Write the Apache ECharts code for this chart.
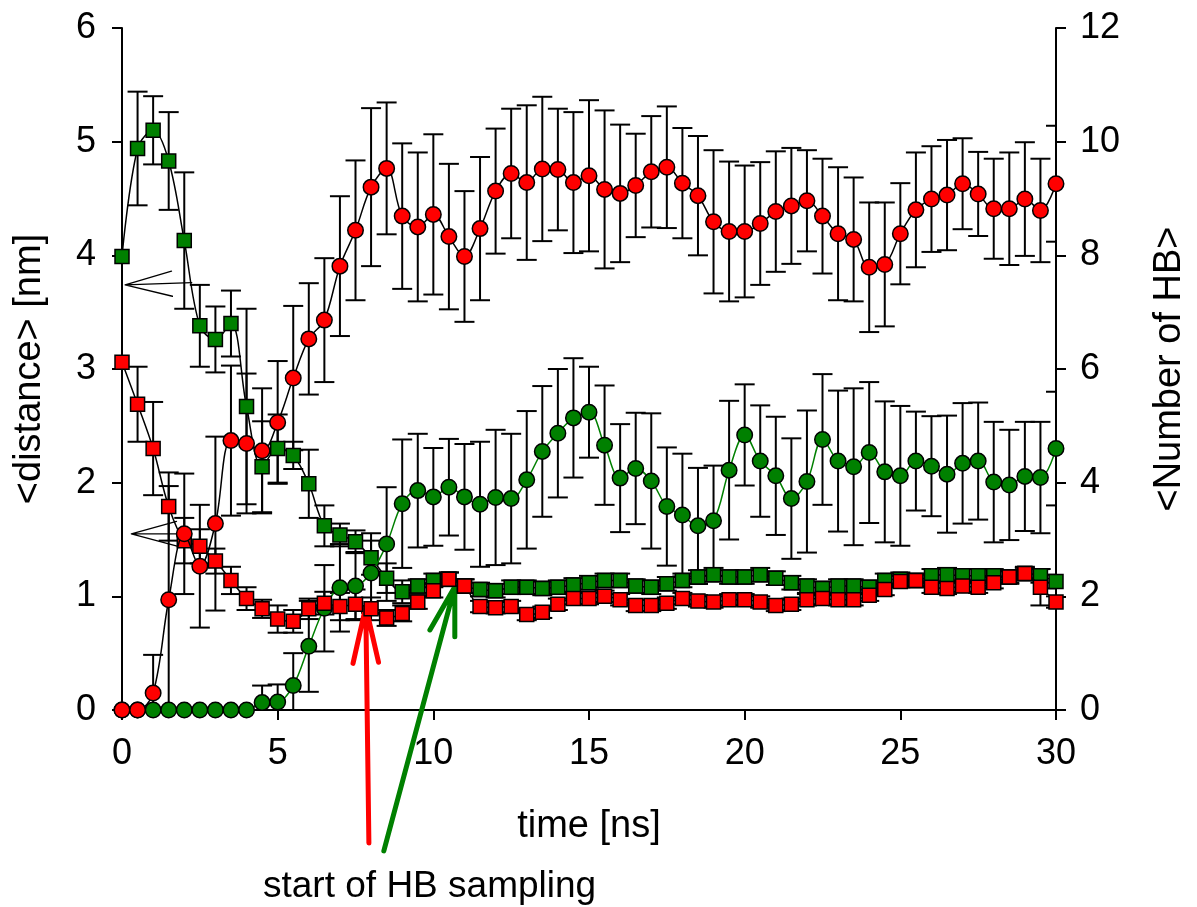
<!DOCTYPE html>
<html>
<head>
<meta charset="utf-8">
<script src="https://cdn.jsdelivr.net/npm/echarts@6/dist/echarts.min.js"></script>
<style>
html,body{margin:0;padding:0;background:#fff;overflow:hidden;}
#chart{width:100vw;height:100vh;}
</style>
</head>
<body>
<div id="chart"></div>
<script>
// time points [ns]
const times = [0,0.5,1,1.5,2,2.5,3,3.5,4,4.5,5,5.5,6,6.5,7,7.5,8,8.5,9,9.5,10,10.5,11,11.5,12,12.5,13,13.5,14,14.5,15,15.5,16,16.5,17,17.5,18,18.5,19,19.5,20,20.5,21,21.5,22,22.5,23,23.5,24,24.5,25,25.5,26,26.5,27,27.5,28,28.5,29,29.5,30];

// <Number of HB> (right axis)
const hbRed = [0,0,0.30,1.94,3.10,2.53,3.28,4.74,4.69,4.56,5.06,5.84,6.53,6.86,7.81,8.44,9.20,9.53,8.69,8.50,8.72,8.33,7.98,8.47,9.13,9.44,9.28,9.52,9.51,9.28,9.40,9.16,9.09,9.23,9.47,9.55,9.27,9.05,8.59,8.42,8.42,8.56,8.77,8.87,8.96,8.69,8.38,8.28,7.79,7.84,8.38,8.80,8.99,9.06,9.26,9.08,8.82,8.82,8.99,8.79,9.26];
const hbRedErr = [0,0,0.67,2.0,1.06,1.08,1.53,1.32,1.23,1.10,1.08,1.27,0.98,1.09,1.23,1.23,1.39,1.16,1.28,1.31,1.41,1.28,1.15,1.26,1.10,1.14,1.36,1.27,1.07,1.24,1.33,1.39,1.21,0.91,0.98,1.07,0.97,1.05,1.26,1.23,1.16,1.08,1.06,1.02,0.89,1.01,1.17,1.09,1.14,1.09,0.89,1.01,0.93,0.97,0.80,0.74,0.88,0.99,1.00,0.91,1.02];
const hbGreen = [0,0,0,0,0,0,0,0,0,0.13,0.14,0.43,1.12,1.79,2.15,2.18,2.41,2.92,3.63,3.86,3.75,3.92,3.75,3.62,3.74,3.72,4.05,4.55,4.87,5.14,5.24,4.66,4.08,4.25,4.03,3.58,3.43,3.24,3.33,4.22,4.84,4.38,4.12,3.72,4.02,4.76,4.38,4.28,4.53,4.19,4.12,4.38,4.29,4.15,4.34,4.38,4.01,3.96,4.11,4.09,4.60];
const hbGreenErr = [0,0,0,0,0,0,0,0,0,0.30,0.31,0.57,0.80,0.76,0.77,0.60,0.70,1.00,1.13,1.00,0.86,0.85,0.93,1.10,1.19,1.14,1.21,1.15,1.13,1.05,0.80,1.05,0.95,0.98,1.19,1.04,1.08,1.02,0.97,1.22,0.89,0.98,1.04,1.06,1.25,1.15,1.24,1.38,1.24,1.24,1.23,0.87,0.88,1.03,1.06,1.03,1.06,0.97,0.96,0.98,1.00];

// <distance> [nm] (left axis)
const distRed = [3.06,2.69,2.30,1.79,1.49,1.44,1.31,1.14,0.98,0.89,0.80,0.78,0.89,0.94,0.91,0.93,0.89,0.81,0.85,0.95,1.05,1.15,1.09,0.91,0.90,0.91,0.84,0.86,0.93,0.98,0.98,1.00,0.97,0.92,0.92,0.94,0.98,0.96,0.95,0.97,0.97,0.95,0.92,0.93,0.97,0.98,0.97,0.97,1.01,1.06,1.13,1.14,1.08,1.07,1.09,1.08,1.12,1.17,1.20,1.08,0.95];
const distRedErr = [0,0.33,0.41,0.30,0.20,0.15,0.11,0.12,0.10,0.08,0.12,0.10,0.09,0.10,0.12,0.13,0.10,0.07,0.07,0.06,0.06,0.06,0.06,0.05,0.05,0.05,0.05,0.05,0.05,0.05,0.05,0.05,0.05,0.05,0.05,0.05,0.05,0.05,0.05,0.05,0.05,0.05,0.05,0.05,0.05,0.05,0.05,0.05,0.05,0.05,0.05,0.05,0.05,0.05,0.05,0.05,0.05,0.05,0.05,0.16,0.05];
const distGreen = [3.99,4.94,5.10,4.83,4.13,3.38,3.26,3.40,2.67,2.14,2.30,2.24,1.99,1.62,1.54,1.48,1.34,1.16,1.04,1.09,1.14,1.15,1.09,1.06,1.05,1.08,1.08,1.07,1.08,1.10,1.12,1.14,1.14,1.09,1.08,1.11,1.14,1.17,1.19,1.17,1.17,1.19,1.16,1.12,1.09,1.07,1.09,1.09,1.08,1.14,1.15,1.14,1.18,1.19,1.18,1.18,1.18,1.17,1.20,1.18,1.13];
const distGreenErr = [0,0.50,0.30,0.43,0.60,0.36,0.29,0.29,0.86,0.40,0.30,0.12,0.30,0.18,0.10,0.10,0.15,0.13,0.10,0.06,0.06,0.06,0.06,0.06,0.06,0.06,0.06,0.06,0.06,0.06,0.06,0.06,0.06,0.06,0.06,0.06,0.06,0.06,0.06,0.06,0.06,0.06,0.06,0.06,0.06,0.06,0.06,0.06,0.06,0.06,0.06,0.06,0.06,0.06,0.06,0.06,0.06,0.06,0.06,0.06,0.06];

// tick labels
const xTicks = [0,5,10,15,20,25,30];
const yLeftTicks = [0,1,2,3,4,5,6];
const yRightTicks = [0,2,4,6,8,10,12];

// annotation arrows in (time, distance) coordinates
const redArrow = [[7.42,0.41],[7.83,0.909],[8.24,0.42],[7.83,0.909],[7.93,-1.17]];
const greenArrow = [[9.89,0.704],[10.69,1.085],[10.69,0.645],[10.69,1.085],[8.41,-1.24]];
const leftArrowA = [[1.59,3.86],[0.10,3.74],[1.62,3.64],[0.10,3.74],[2.24,3.76]];
const leftArrowB = [[1.75,1.66],[0.30,1.55],[1.80,1.44],[0.30,1.55],[2.05,1.55]];
const annotationText = 'start of HB sampling';

const FONT = 'Liberation Sans, Arial, sans-serif';

function pairs(vals){ return times.map((t,i)=>[t, vals[i]]); }
function errRows(vals, errs){ return times.map((t,i)=>[t, vals[i]-errs[i], vals[i]+errs[i]]).filter((r,i)=>errs[i]>0); }

function errRender(params, api){
  const x = api.value(0), lo = api.value(1), hi = api.value(2);
  const p1 = api.coord([x, hi]), p2 = api.coord([x, lo]);
  const w = 10;
  const st = {stroke:'#000', lineWidth:2};
  return {type:'group', children:[
    {type:'line', shape:{x1:p1[0], y1:p1[1], x2:p2[0], y2:p2[1]}, style:st},
    {type:'line', shape:{x1:p1[0]-w, y1:p1[1], x2:p1[0]+w, y2:p1[1]}, style:st},
    {type:'line', shape:{x1:p2[0]-w, y1:p2[1], x2:p2[0]+w, y2:p2[1]}, style:st}
  ]};
}

function errSeries(vals, errs, yIdx){
  return {type:'custom', xAxisIndex:0, yAxisIndex:yIdx, renderItem:errRender,
    data: errRows(vals, errs), encode:{x:0, y:[1,2]}, z:1, clip:true, silent:true};
}

function annoLine(data, color, width){
  return {type:'line', xAxisIndex:0, yAxisIndex:0, data:data, symbol:'none', clip:false,
    lineStyle:{color:color, width:width, cap:'round', join:'round'}, z:1.5, silent:true, animation:false};
}

const chart = echarts.init(document.getElementById('chart'), null, {renderer:'canvas'});
const axisCommon = {
  axisLine:{show:true, lineStyle:{color:'#000', width:2}},
  axisTick:{show:true, inside:false, length:10, lineStyle:{color:'#000', width:2}},
  splitLine:{show:false},
  axisLabel:{color:'#000', fontSize:36, fontFamily:FONT},
  nameTextStyle:{color:'#000', fontSize:38, fontFamily:FONT}
};

chart.setOption({
  animation:false,
  backgroundColor:'#fff',
  grid:{left:122, right:131, top:28, bottom:197, containLabel:false},
  xAxis:[Object.assign({}, axisCommon, {
    type:'value', min:xTicks[0], max:xTicks[xTicks.length-1], interval:xTicks[1]-xTicks[0],
    name:'time [ns]', nameLocation:'middle', nameGap:98,
    axisLabel:Object.assign({}, axisCommon.axisLabel, {margin:26})
  })],
  yAxis:[
    Object.assign({}, axisCommon, {
      type:'value', position:'left', min:yLeftTicks[0], max:yLeftTicks[yLeftTicks.length-1], interval:yLeftTicks[1]-yLeftTicks[0],
      name:'<distance> [nm]', nameLocation:'middle', nameRotate:90, nameGap:73,
      axisLabel:Object.assign({}, axisCommon.axisLabel, {margin:26})
    }),
    Object.assign({}, axisCommon, {
      type:'value', position:'right', min:yRightTicks[0], max:yRightTicks[yRightTicks.length-1], interval:yRightTicks[1]-yRightTicks[0],
      name:'<Number of HB>', nameLocation:'middle', nameRotate:90, nameGap:95,
      axisLabel:Object.assign({}, axisCommon.axisLabel, {margin:24})
    })
  ],
  graphic:[{
    type:'text', left:263, top:868,
    style:{text:annotationText, font:'37px ' + FONT, fill:'#000'}
  }],
  series:[
    errSeries(distGreen, distGreenErr, 0),
    errSeries(distRed, distRedErr, 0),
    errSeries(hbGreen, hbGreenErr, 1),
    errSeries(hbRed, hbRedErr, 1),
    annoLine(redArrow, '#ff0000', 5),
    annoLine(greenArrow, '#008000', 5),
    annoLine(leftArrowA, '#000', 1.3),
    annoLine(leftArrowB, '#000', 1.3),
    {type:'line', name:'distance green', xAxisIndex:0, yAxisIndex:0, data:pairs(distGreen), smooth:0.35,
      symbol:'rect', symbolSize:14, itemStyle:{color:'#008000', borderColor:'#000', borderWidth:1.5},
      lineStyle:{color:'#000', width:1.5}, z:2},
    {type:'line', name:'HB green', xAxisIndex:0, yAxisIndex:1, data:pairs(hbGreen), smooth:0.35,
      symbol:'circle', symbolSize:15.5, itemStyle:{color:'#008000', borderColor:'#000', borderWidth:1.5},
      lineStyle:{color:'#008000', width:1.5}, z:3},
    {type:'line', name:'distance red', xAxisIndex:0, yAxisIndex:0, data:pairs(distRed), smooth:0.35,
      symbol:'rect', symbolSize:14, itemStyle:{color:'#ff0000', borderColor:'#000', borderWidth:1.5},
      lineStyle:{color:'#000', width:1.5}, z:4},
    {type:'line', name:'HB red', xAxisIndex:0, yAxisIndex:1, data:pairs(hbRed), smooth:0.35,
      symbol:'circle', symbolSize:15.5, itemStyle:{color:'#ff0000', borderColor:'#000', borderWidth:1.5},
      lineStyle:{color:'#000', width:1.5}, z:5}
  ]
});
</script>
</body>
</html>
